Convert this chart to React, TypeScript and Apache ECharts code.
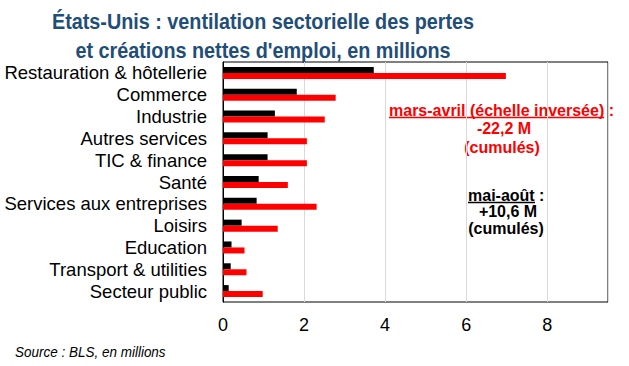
import React, { useEffect, useRef } from "react";
import * as echarts from "echarts";

const categories = [
  "Restauration & hôtellerie",
  "Commerce",
  "Industrie",
  "Autres services",
  "TIC & finance",
  "Santé",
  "Services aux entreprises",
  "Loisirs",
  "Education",
  "Transport & utilities",
  "Secteur public",
];
const maiAout = [3.72, 1.82, 1.28, 1.1, 1.1, 0.88, 0.83, 0.46, 0.21, 0.19, 0.14];
const marsAvril = [6.98, 2.78, 2.51, 2.07, 2.07, 1.6, 2.31, 1.35, 0.53, 0.58, 0.98];
const xTicks = [0, 2, 4, 6, 8];

const FONT = "'Liberation Sans', Arial, sans-serif";

export default function App() {
  const ref = useRef<HTMLDivElement>(null);
  useEffect(() => {
    if (!ref.current) return;
    const chart = echarts.init(ref.current, null, { renderer: "svg" });
    chart.setOption({
      animation: false,
      backgroundColor: "#ffffff",
      textStyle: { fontFamily: FONT },
      grid: {
        left: 223,
        right: 21,
        top: 62,
        bottom: 64,
        show: true,
        borderColor: "#000",
        borderWidth: 1,
        containLabel: false,
      },
      xAxis: {
        type: "value",
        min: 0,
        max: 9.5,
        interval: 2,
        axisLine: { show: false },
        axisTick: { show: false },
        splitLine: { show: true, lineStyle: { color: "#D9D9D9", width: 1 } },
        axisLabel: {
          margin: 14,
          fontSize: 18,
          color: "#000",
          fontFamily: FONT,
          formatter: (v: number) => (xTicks.includes(v) ? String(v) : ""),
        },
      },
      yAxis: {
        type: "category",
        data: categories,
        inverse: true,
        axisLine: { show: true, lineStyle: { color: "#000", width: 1 } },
        axisTick: { show: false },
        splitLine: { show: false },
        axisLabel: {
          interval: 0,
          margin: 16,
          fontSize: 18.5,
          color: "#000",
          fontFamily: FONT,
        },
      },
      series: [
        {
          name: "mai-août",
          type: "bar",
          data: maiAout,
          barWidth: 6,
          barGap: "0%",
          itemStyle: { color: "#000000" },
        },
        {
          name: "mars-avril",
          type: "bar",
          data: marsAvril,
          barWidth: 6,
          barGap: "0%",
          itemStyle: { color: "#FF0000" },
        },
      ],
      graphic: [
        {
          type: "text",
          x: 263,
          y: 21,
          scaleX: 0.9,
          style: {
            text: "États-Unis : ventilation sectorielle des pertes",
            fill: "#1F4E79",
            font: `bold 22px ${FONT}`,
            textAlign: "center",
            textVerticalAlign: "middle",
          },
        },
        {
          type: "text",
          x: 263,
          y: 50,
          scaleX: 0.9,
          style: {
            text: "et créations nettes d'emploi, en millions",
            fill: "#1F4E79",
            font: `bold 22px ${FONT}`,
            textAlign: "center",
            textVerticalAlign: "middle",
          },
        },
        {
          type: "text",
          x: 389,
          y: 110,
          style: {
            text: "mars-avril (échelle inversée) :",
            fill: "#FF0000",
            font: `bold 16px ${FONT}`,
            textAlign: "left",
            textVerticalAlign: "middle",
          },
        },
        {
          type: "line",
          shape: { x1: 389, y1: 117.5, x2: 604, y2: 117.5 },
          style: { stroke: "#FF0000", lineWidth: 1.5 },
        },
        {
          type: "text",
          x: 504,
          y: 128,
          style: {
            text: "-22,2 M",
            fill: "#FF0000",
            font: `bold 16px ${FONT}`,
            textAlign: "center",
            textVerticalAlign: "middle",
          },
        },
        {
          type: "text",
          x: 502,
          y: 147,
          style: {
            text: "(cumulés)",
            fill: "#FF0000",
            font: `bold 16px ${FONT}`,
            textAlign: "center",
            textVerticalAlign: "middle",
          },
        },
        {
          type: "text",
          x: 468,
          y: 195.5,
          style: {
            text: "mai-août :",
            fill: "#000",
            font: `bold 16px ${FONT}`,
            textAlign: "left",
            textVerticalAlign: "middle",
          },
        },
        {
          type: "line",
          shape: { x1: 468, y1: 202.5, x2: 535, y2: 202.5 },
          style: { stroke: "#000", lineWidth: 1.5 },
        },
        {
          type: "text",
          x: 508,
          y: 211.5,
          style: {
            text: "+10,6 M",
            fill: "#000",
            font: `bold 16px ${FONT}`,
            textAlign: "center",
            textVerticalAlign: "middle",
          },
        },
        {
          type: "text",
          x: 506,
          y: 228,
          style: {
            text: "(cumulés)",
            fill: "#000",
            font: `bold 16px ${FONT}`,
            textAlign: "center",
            textVerticalAlign: "middle",
          },
        },
        {
          type: "text",
          x: 15,
          y: 352,
          scaleX: 0.9,
          style: {
            text: "Source : BLS, en millions",
            fill: "#000",
            font: `italic 15px ${FONT}`,
            textAlign: "left",
            textVerticalAlign: "middle",
          },
        },
      ],
    });
    return () => chart.dispose();
  }, []);
  return (
    <div
      ref={ref}
      style={{ position: "fixed", left: 0, top: 0, width: 629, height: 366 }}
    />
  );
}
